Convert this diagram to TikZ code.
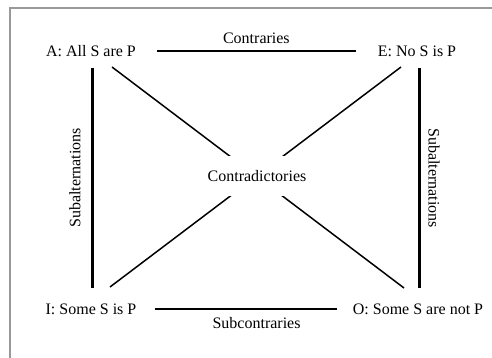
\documentclass[tikz,border=0pt]{standalone}
\usepackage{fontspec}
\setmainfont{Liberation Serif}
\usetikzlibrary{positioning,calc}
\definecolor{framegray}{rgb}{0.6, 0.6, 0.6}

\begin{document}
\begin{tikzpicture}[x=1pt,y=-1pt,
                font=\fontsize{16}{19}\selectfont,
                prop node/.style={inner sep=0pt},
                label node/.style={inner sep=0pt},
                rel line/.style={line width=2pt},
                sub line/.style={line width=3pt},
                diag line/.style={line width=1.5pt}]
    \useasboundingbox (0,0) rectangle (492,358);
    \draw[framegray, line width=1.5pt] (492,8) -- (10,8) -- (10,358);
%Nodes
    \node[prop node] (A) at (91,51) {A: All S are P};
    \node[prop node] (E) at (417,51) {E: No S is P};
    \node[prop node] (I) at (91,309) {I: Some S is P};
    \node[prop node] (O) at (418,309) {O: Some S are not P};

    \draw[diag line] ([xshift=21pt,yshift=-16pt]A.center) -- ([xshift=-14pt,yshift=21pt]O.center);
    \draw[diag line] ([xshift=-16pt,yshift=-16pt]E.center) -- ([xshift=19pt,yshift=22pt]I.center);
    \node[label node, fill=white, inner xsep=2pt, inner ysep=14pt] (C) at (257,176) {Contradictories};

    \draw[rel line] ([xshift=21pt]A.east) -- node[label node, midway, yshift=13pt] {Contraries} ([xshift=-22pt]E.west);
    \draw[rel line] ([xshift=18pt]I.east) -- node[label node, pos=0.56, yshift=-14pt] {Subcontraries} ([xshift=-16pt]O.west);
    \draw[sub line] ([xshift=1pt,yshift=-17pt]A.center) -- node[label node, midway, xshift=-17pt, rotate=90] {Subalternations} ([xshift=1pt,yshift=21pt]I.center);
    \draw[sub line] ([xshift=2pt,yshift=-17pt]E.center) -- node[label node, midway, xshift=15pt, rotate=-90] {Subalternations} ([xshift=1pt,yshift=21pt]O.center);
\end{tikzpicture}
\end{document}
